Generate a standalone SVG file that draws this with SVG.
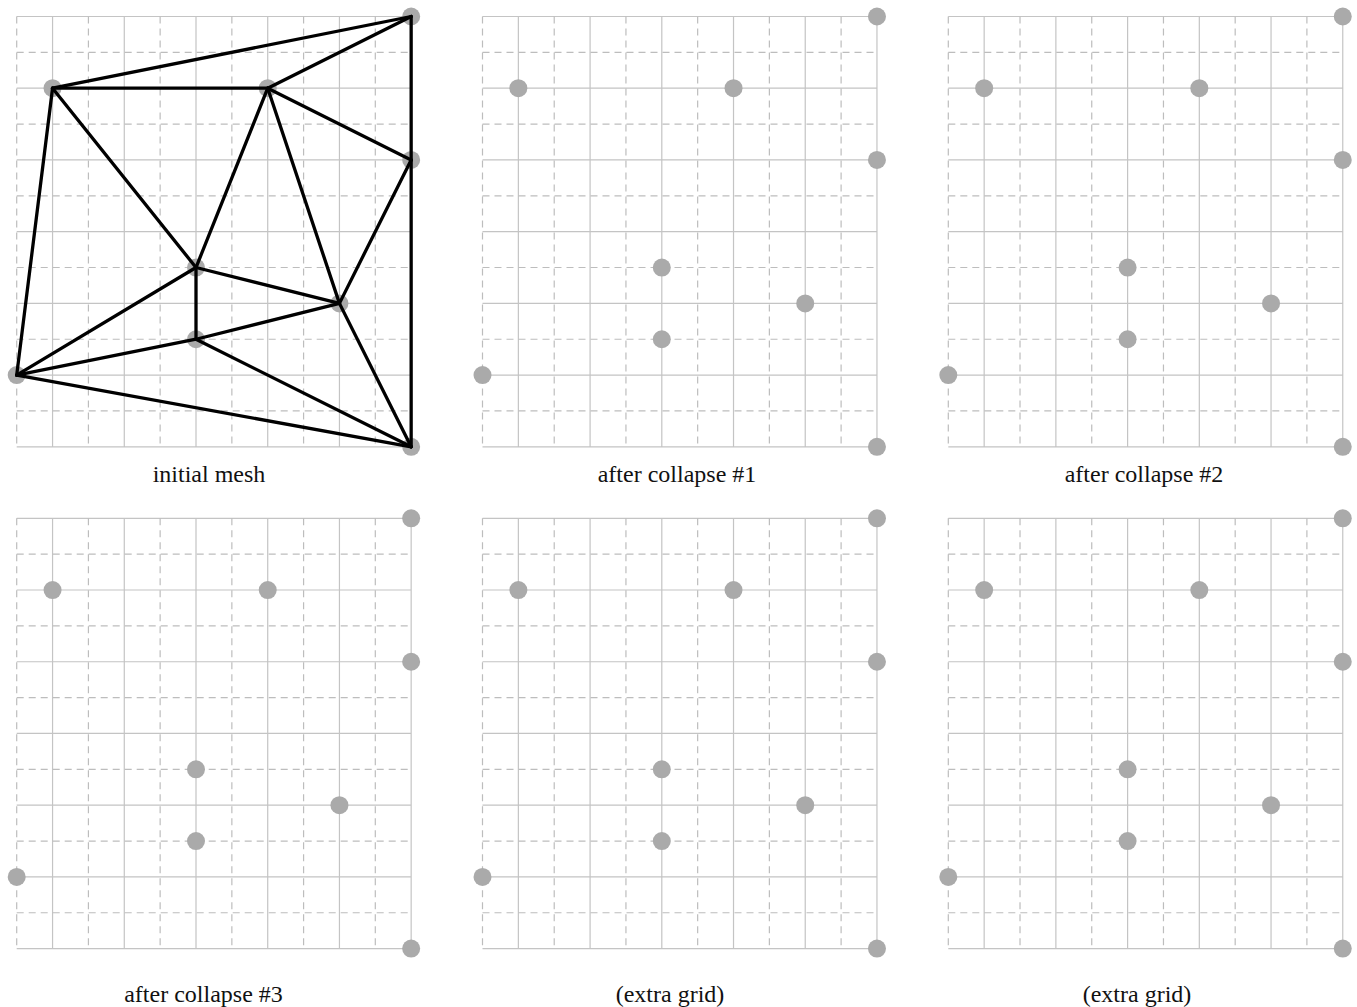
<svg xmlns="http://www.w3.org/2000/svg" xmlns:xlink="http://www.w3.org/1999/xlink" width="1357" height="1007" viewBox="0 0 1357 1007">
<style>
.solid{fill:none;stroke:#c4c4c4;stroke-width:1.2}
.dash{fill:none;stroke:#bdbdbd;stroke-width:1.2;stroke-dasharray:7 5}
.pt{fill:#aaaaaa}
.edge{stroke:#000;stroke-width:3.3;stroke-linecap:round;fill:none}
.lbl{font-family:"Liberation Serif","Times New Roman",serif;font-size:24px;fill:#111;text-anchor:middle}
</style>
<defs>
<g id="grid">
<path class="solid" d="M35.86 0V430.32M107.58 0V430.32M179.3 0V430.32M251.02 0V430.32M322.74 0V430.32M394.46 0V430.32M0 0H394.46M0 71.72H394.46M0 143.44H394.46M0 215.16H394.46M0 286.88H394.46M0 358.6H394.46M0 430.32H394.46"/>
<path class="dash" d="M0 0V430.32M71.72 0V430.32M143.44 0V430.32M215.16 0V430.32M286.88 0V430.32M358.6 0V430.32M0 35.86H394.46M0 107.58H394.46M0 179.3H394.46M0 251.02H394.46M0 322.74H394.46M0 394.46H394.46"/>
</g>
<circle id="dot" class="pt" r="9"/>
</defs>

<g id="panel1" transform="translate(16.7,16.5)">
<use xlink:href="#grid" href="#grid"/>
<g id="p1-n1"><use href="#dot" xlink:href="#dot" x="394.46" y="0"/></g>
<g id="p1-n2"><use href="#dot" xlink:href="#dot" x="35.86" y="71.72"/></g>
<g id="p1-n3"><use href="#dot" xlink:href="#dot" x="251.02" y="71.72"/></g>
<g id="p1-n4"><use href="#dot" xlink:href="#dot" x="394.46" y="143.44"/></g>
<g id="p1-n5"><use href="#dot" xlink:href="#dot" x="179.3" y="251.02"/></g>
<g id="p1-n6"><use href="#dot" xlink:href="#dot" x="322.74" y="286.88"/></g>
<g id="p1-n7"><use href="#dot" xlink:href="#dot" x="179.3" y="322.74"/></g>
<g id="p1-n8"><use href="#dot" xlink:href="#dot" x="0" y="358.6"/></g>
<g id="p1-n9"><use href="#dot" xlink:href="#dot" x="394.46" y="430.32"/></g>
<g id="connectors">
<line class="edge" x1="35.86" y1="71.72" x2="394.46" y2="0"/>
<line class="edge" x1="35.86" y1="71.72" x2="251.02" y2="71.72"/>
<line class="edge" x1="251.02" y1="71.72" x2="394.46" y2="0"/>
<line class="edge" x1="394.46" y1="0" x2="394.46" y2="143.44"/>
<line class="edge" x1="394.46" y1="143.44" x2="394.46" y2="430.32"/>
<line class="edge" x1="251.02" y1="71.72" x2="394.46" y2="143.44"/>
<line class="edge" x1="251.02" y1="71.72" x2="179.3" y2="251.02"/>
<line class="edge" x1="251.02" y1="71.72" x2="322.74" y2="286.88"/>
<line class="edge" x1="35.86" y1="71.72" x2="179.3" y2="251.02"/>
<line class="edge" x1="35.86" y1="71.72" x2="0" y2="358.6"/>
<line class="edge" x1="179.3" y1="251.02" x2="179.3" y2="322.74"/>
<line class="edge" x1="179.3" y1="251.02" x2="322.74" y2="286.88"/>
<line class="edge" x1="179.3" y1="251.02" x2="0" y2="358.6"/>
<line class="edge" x1="179.3" y1="322.74" x2="322.74" y2="286.88"/>
<line class="edge" x1="179.3" y1="322.74" x2="0" y2="358.6"/>
<line class="edge" x1="179.3" y1="322.74" x2="394.46" y2="430.32"/>
<line class="edge" x1="0" y1="358.6" x2="394.46" y2="430.32"/>
<line class="edge" x1="322.74" y1="286.88" x2="394.46" y2="430.32"/>
<line class="edge" x1="322.74" y1="286.88" x2="394.46" y2="143.44"/>
</g>
</g>

<g id="panel2" transform="translate(482.5,16.5)">
<use xlink:href="#grid" href="#grid"/>
<g id="p2-n1"><use href="#dot" xlink:href="#dot" x="394.46" y="0"/></g>
<g id="p2-n2"><use href="#dot" xlink:href="#dot" x="35.86" y="71.72"/></g>
<g id="p2-n3"><use href="#dot" xlink:href="#dot" x="251.02" y="71.72"/></g>
<g id="p2-n4"><use href="#dot" xlink:href="#dot" x="394.46" y="143.44"/></g>
<g id="p2-n5"><use href="#dot" xlink:href="#dot" x="179.3" y="251.02"/></g>
<g id="p2-n6"><use href="#dot" xlink:href="#dot" x="322.74" y="286.88"/></g>
<g id="p2-n7"><use href="#dot" xlink:href="#dot" x="179.3" y="322.74"/></g>
<g id="p2-n8"><use href="#dot" xlink:href="#dot" x="0" y="358.6"/></g>
<g id="p2-n9"><use href="#dot" xlink:href="#dot" x="394.46" y="430.32"/></g>
</g>

<g id="panel3" transform="translate(948.3,16.5)">
<use xlink:href="#grid" href="#grid"/>
<g id="p3-n1"><use href="#dot" xlink:href="#dot" x="394.46" y="0"/></g>
<g id="p3-n2"><use href="#dot" xlink:href="#dot" x="35.86" y="71.72"/></g>
<g id="p3-n3"><use href="#dot" xlink:href="#dot" x="251.02" y="71.72"/></g>
<g id="p3-n4"><use href="#dot" xlink:href="#dot" x="394.46" y="143.44"/></g>
<g id="p3-n5"><use href="#dot" xlink:href="#dot" x="179.3" y="251.02"/></g>
<g id="p3-n6"><use href="#dot" xlink:href="#dot" x="322.74" y="286.88"/></g>
<g id="p3-n7"><use href="#dot" xlink:href="#dot" x="179.3" y="322.74"/></g>
<g id="p3-n8"><use href="#dot" xlink:href="#dot" x="0" y="358.6"/></g>
<g id="p3-n9"><use href="#dot" xlink:href="#dot" x="394.46" y="430.32"/></g>
</g>

<g id="panel4" transform="translate(16.7,518.3)">
<use xlink:href="#grid" href="#grid"/>
<g id="p4-n1"><use href="#dot" xlink:href="#dot" x="394.46" y="0"/></g>
<g id="p4-n2"><use href="#dot" xlink:href="#dot" x="35.86" y="71.72"/></g>
<g id="p4-n3"><use href="#dot" xlink:href="#dot" x="251.02" y="71.72"/></g>
<g id="p4-n4"><use href="#dot" xlink:href="#dot" x="394.46" y="143.44"/></g>
<g id="p4-n5"><use href="#dot" xlink:href="#dot" x="179.3" y="251.02"/></g>
<g id="p4-n6"><use href="#dot" xlink:href="#dot" x="322.74" y="286.88"/></g>
<g id="p4-n7"><use href="#dot" xlink:href="#dot" x="179.3" y="322.74"/></g>
<g id="p4-n8"><use href="#dot" xlink:href="#dot" x="0" y="358.6"/></g>
<g id="p4-n9"><use href="#dot" xlink:href="#dot" x="394.46" y="430.32"/></g>
</g>

<g id="panel5" transform="translate(482.5,518.3)">
<use xlink:href="#grid" href="#grid"/>
<g id="p5-n1"><use href="#dot" xlink:href="#dot" x="394.46" y="0"/></g>
<g id="p5-n2"><use href="#dot" xlink:href="#dot" x="35.86" y="71.72"/></g>
<g id="p5-n3"><use href="#dot" xlink:href="#dot" x="251.02" y="71.72"/></g>
<g id="p5-n4"><use href="#dot" xlink:href="#dot" x="394.46" y="143.44"/></g>
<g id="p5-n5"><use href="#dot" xlink:href="#dot" x="179.3" y="251.02"/></g>
<g id="p5-n6"><use href="#dot" xlink:href="#dot" x="322.74" y="286.88"/></g>
<g id="p5-n7"><use href="#dot" xlink:href="#dot" x="179.3" y="322.74"/></g>
<g id="p5-n8"><use href="#dot" xlink:href="#dot" x="0" y="358.6"/></g>
<g id="p5-n9"><use href="#dot" xlink:href="#dot" x="394.46" y="430.32"/></g>
</g>

<g id="panel6" transform="translate(948.3,518.3)">
<use xlink:href="#grid" href="#grid"/>
<g id="p6-n1"><use href="#dot" xlink:href="#dot" x="394.46" y="0"/></g>
<g id="p6-n2"><use href="#dot" xlink:href="#dot" x="35.86" y="71.72"/></g>
<g id="p6-n3"><use href="#dot" xlink:href="#dot" x="251.02" y="71.72"/></g>
<g id="p6-n4"><use href="#dot" xlink:href="#dot" x="394.46" y="143.44"/></g>
<g id="p6-n5"><use href="#dot" xlink:href="#dot" x="179.3" y="251.02"/></g>
<g id="p6-n6"><use href="#dot" xlink:href="#dot" x="322.74" y="286.88"/></g>
<g id="p6-n7"><use href="#dot" xlink:href="#dot" x="179.3" y="322.74"/></g>
<g id="p6-n8"><use href="#dot" xlink:href="#dot" x="0" y="358.6"/></g>
<g id="p6-n9"><use href="#dot" xlink:href="#dot" x="394.46" y="430.32"/></g>
</g>

<g id="labels">
<text class="lbl" x="209" y="482">initial mesh</text>
<text class="lbl" x="677" y="482">after collapse #1</text>
<text class="lbl" x="1144" y="482">after collapse #2</text>
<text class="lbl" x="203.5" y="1002">after collapse #3</text>
<text class="lbl" x="670" y="1002">(extra grid)</text>
<text class="lbl" x="1137" y="1002">(extra grid)</text>
</g>
</svg>
